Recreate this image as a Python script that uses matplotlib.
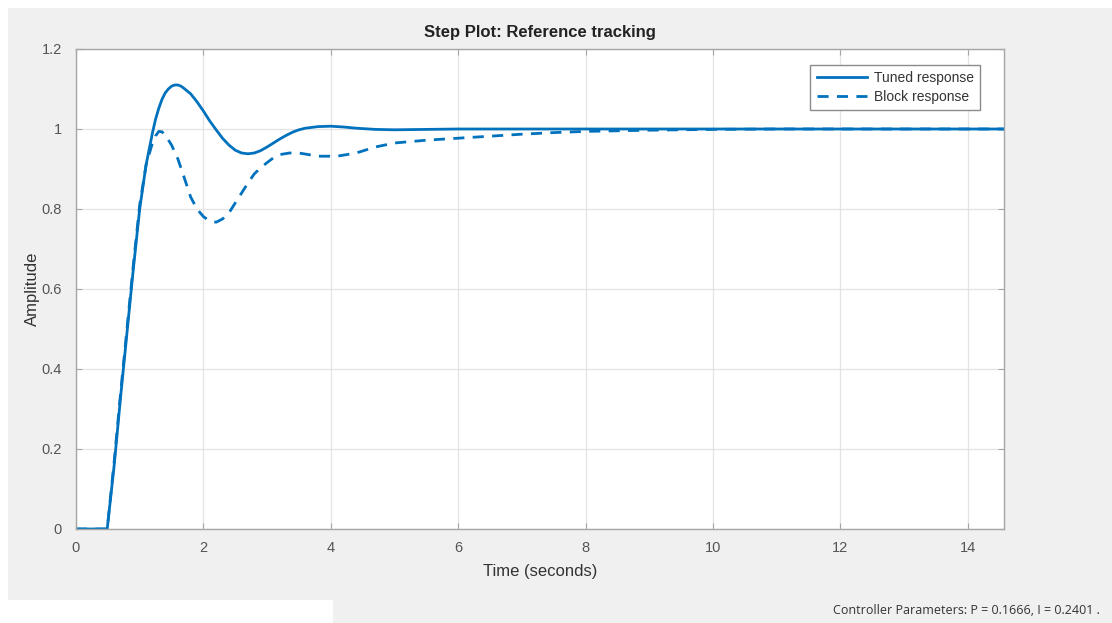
import matplotlib
matplotlib.use("Agg")
import matplotlib.pyplot as plt
from matplotlib.patches import Rectangle

# Data
tuned_t = [0, 0.49, 0.6, 0.7, 0.8, 0.9, 1.0, 1.1, 1.2, 1.25, 1.3, 1.35, 1.4, 1.45, 1.5, 1.55, 1.6, 1.65,
           1.7, 1.8, 1.9, 2.0, 2.1, 2.2, 2.3, 2.4, 2.5, 2.6, 2.7, 2.8, 2.9, 3.0, 3.1, 3.2, 3.3, 3.4,
           3.5, 3.6, 3.8, 4.0, 4.2, 4.4, 4.7, 5.0, 5.5, 6.0, 8.0, 10.0, 12.0, 14.6]
tuned_y = [0, 0, 0.16, 0.33, 0.49, 0.65, 0.80, 0.91, 0.99, 1.025, 1.052, 1.074, 1.09, 1.10, 1.107, 1.11, 1.11, 1.107,
           1.101, 1.088, 1.068, 1.045, 1.02, 0.998, 0.977, 0.96, 0.947, 0.94, 0.938, 0.94, 0.946, 0.955, 0.965, 0.975, 0.984, 0.992,
           0.998, 1.002, 1.006, 1.007, 1.005, 1.002, 0.999, 0.998, 0.999, 1.0, 1.0, 1.0, 1.0, 1.0]

block_t = [0, 0.49, 0.6, 0.7, 0.8, 0.9, 1.0, 1.1, 1.2, 1.25, 1.3, 1.35, 1.4, 1.5, 1.6, 1.7, 1.8, 1.9, 2.0,
           2.1, 2.2, 2.3, 2.4, 2.5, 2.6, 2.7, 2.8, 2.9, 3.0, 3.1, 3.2, 3.35, 3.5, 3.8, 4.1, 4.4, 4.7, 5.0,
           5.5, 6.0, 6.5, 7.0, 7.5, 8.0, 9.0, 10.0, 11.0, 14.6]
block_y = [0, 0, 0.17, 0.34, 0.50, 0.66, 0.81, 0.91, 0.965, 0.983, 0.994, 0.993, 0.985, 0.96, 0.925, 0.878, 0.83, 0.80, 0.781,
           0.77, 0.767, 0.775, 0.79, 0.815, 0.84, 0.865, 0.888, 0.903, 0.916, 0.928, 0.936, 0.94, 0.94, 0.932, 0.932, 0.94, 0.955, 0.965,
           0.972, 0.977, 0.982, 0.987, 0.991, 0.994, 0.997, 0.999, 1.0, 1.0]

x_ticks = [0, 2, 4, 6, 8, 10, 12, 14]
y_ticks = [0, 0.2, 0.4, 0.6, 0.8, 1.0, 1.2]
y_tick_labels = ["0", "0.2", "0.4", "0.6", "0.8", "1", "1.2"]

plt.rcParams['font.family'] = ['Liberation Sans', 'DejaVu Sans']

W, H = 1112, 623
fig = plt.figure(figsize=(W / 100, H / 100), dpi=100, facecolor='white')

# gray panel background
fig.patches.append(Rectangle((8 / W, 0), 1 - 8 / W, 1 - 8 / H, transform=fig.transFigure,
                             facecolor='#f0f0f0', edgecolor='none', zorder=-10))
fig.patches.append(Rectangle((8 / W, 0), (333 - 8) / W, (H - 600) / H, transform=fig.transFigure,
                             facecolor='white', edgecolor='none', zorder=-9))

ax = fig.add_axes([76 / W, 1 - 529 / H, (1004 - 76) / W, (529 - 49) / H])
ax.set_facecolor('white')

color = '#0072BD'
ax.plot(tuned_t, tuned_y, color=color, lw=2.0, label='Tuned response', solid_joinstyle='round')
ax.plot(block_t, block_y, color=color, lw=2.0, ls=(0, (4, 3)), label='Block response')

ax.set_xlim(0, 14.57)
ax.set_ylim(0, 1.2)
ax.set_xticks(x_ticks)
ax.set_yticks(y_ticks)
ax.set_yticklabels(y_tick_labels)
ax.grid(True, color='#e3e3e3', lw=0.9)
ax.set_axisbelow(True)
for s in ax.spines.values():
    s.set_color('#a6a6a6')
    s.set_linewidth(1.0)
ax.tick_params(direction='in', top=True, right=True, length=4, color='#a6a6a6',
               labelsize=10.5, labelcolor='#555555')
ax.tick_params(axis='y', pad=10)
ax.tick_params(axis='x', pad=9)

ax.set_title('Step Plot: Reference tracking', fontsize=12, fontweight='bold', color='#222222', pad=9)
ax.set_xlabel('Time (seconds)', fontsize=12, color='#333333', labelpad=6)
ax.set_ylabel('Amplitude', fontsize=12, color='#333333', labelpad=1)

leg = ax.legend(loc='upper right', bbox_to_anchor=(0.974, 0.967), borderaxespad=0, fontsize=10,
                frameon=True, fancybox=False, framealpha=1, edgecolor='#8a8a8a', handlelength=3.6,
                borderpad=0.45, labelspacing=0.35, handletextpad=0.5)
leg.get_frame().set_linewidth(1.0)
for txt in leg.get_texts():
    txt.set_color('#333333')

fig.text(1100 / W, 1 - 610 / H, 'Controller Parameters: P = 0.1666, I = 0.2401 .',
         ha='right', va='center', fontsize=9, color='#333333', family=['Open Sans', 'DejaVu Sans'])

fig.savefig('out.png', dpi=100, facecolor=fig.get_facecolor())
